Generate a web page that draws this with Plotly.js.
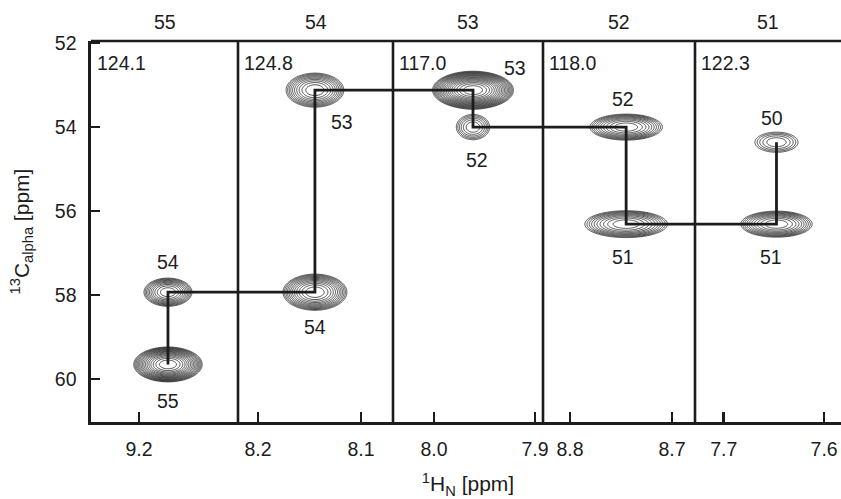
<!DOCTYPE html>
<html><head><meta charset="utf-8">
<script src="https://cdn.plot.ly/plotly-3.0.1.min.js"></script>
<style>html,body{margin:0;padding:0;background:#fff}</style>
</head><body><div id="chart" style="width:841px;height:499px"></div>
<script>
// ---- data ----
const stripResidues = ['55','54','53','52','51'];
const stripN15 = ['124.1','124.8','117.0','118.0','122.3'];
const stripHRange = [[9.247,9.103],[8.2194,8.0689],[8.0406,7.8921],[8.8265,8.6775],[7.7287,7.5832]];
const stripTickVals = [[9.2],[8.2,8.1],[8.0,7.9],[8.8,8.7],[7.7,7.6]];
const stripTickText = [['9.2'],['8.2','8.1'],['8.0','7.9'],['8.8','8.7'],['7.7','7.6']];
const cRange = [61.02, 51.95];
const cTicks = [52,54,56,58,60];

const peakStrip = [0,0,1,1,2,2,3,3,4,4];
const peakLabel = ['54','55','53','54','53','52','52','51','50','51'];
const peakH = [9.1716,9.1716,8.1447,8.1447,7.9614,7.9614,8.745,8.745,7.6475,7.6475];
const peakC = [57.93,59.65,53.12,57.93,53.12,54.0,54.0,56.31,54.36,56.31];
const peakWidthH = [0.047,0.067,0.056,0.062,0.080,0.033,0.071,0.081,0.043,0.071];
const peakWidthC = [0.67,0.83,0.81,0.86,0.90,0.60,0.62,0.64,0.48,0.62];
const peakLevels = [10,16,10,12,18,6,10,10,5,10];
const walkOrder = [1,0,3,2,4,5,6,7,9,8];

// ---- styling ----
const FONT = 'Liberation Sans, Arial, Helvetica, sans-serif';
const INK = '#1c1c1c';
const FS = 19.5, TFS = 21;
const stripEdgesPx = [91,238,393,543,695,841];
const plotL = 91, plotR = 841;
const labelDX = [0,0,27,0,42,4,-3,-3,-4,-5];
const labelDY = [-30,37,32,35,-22,33,-28,33,-24,33];
const step = 0.3;

const dom = [];
for (let i=0;i<5;i++) dom.push([(stripEdgesPx[i]-plotL)/(plotR-plotL),(stripEdgesPx[i+1]-plotL)/(plotR-plotL)]);
const axName = i => i===0 ? 'x' : 'x'+(i+1);

const traces = [];
// contours
for (let s=0;s<5;s++){
  const [lo,hi] = stripHRange[s];
  const nx = 150, xs = [];
  for (let i=0;i<nx;i++) xs.push(lo+(hi-lo)*i/(nx-1));
  const ys = [];
  for (let y=51.95;y<=61.02;y+=0.015) ys.push(y);
  const pk = [];
  for (let k=0;k<peakStrip.length;k++) if (peakStrip[k]===s){
    const n = peakLevels[k];
    const f = Math.sqrt(2*n*step);
    pk.push({h:peakH[k], c:peakC[k], A:Math.exp(n*step), sx:(peakWidthH[k]/2)/f, sy:(peakWidthC[k]/2)/f});
  }
  const z = ys.map(y => xs.map(x => {
    let v = 1e-9;
    for (const p of pk){
      const dx=(x-p.h)/p.sx, dy=(y-p.c)/p.sy;
      v += p.A*Math.exp(-0.5*(dx*dx+dy*dy));
    }
    return Math.log(v);
  }));
  traces.push({type:'contour', x:xs, y:ys, z:z, xaxis:axName(s), yaxis:'y',
    autocontour:false, contours:{start:0.001, end:30, size:step, coloring:'none'},
    line:{color:'#1a1a1a', width:0.75, smoothing:1}, showscale:false, hoverinfo:'skip'});
}
// connectivity walk
const segs = [[],[],[],[],[]];
for (let i=0;i<walkOrder.length;i++){
  const k = walkOrder[i];
  const s = peakStrip[k];
  if (i>0){
    const kp = walkOrder[i-1];
    const sp = peakStrip[kp];
    if (sp!==s){
      segs[sp].push([stripHRange[sp][1], peakC[kp]]);
      segs[sp].push(null);
      segs[s].push([stripHRange[s][0], peakC[k]]);
    }
  }
  segs[s].push([peakH[k], peakC[k]]);
}
for (let s=0;s<5;s++){
  const xs=[], ys=[];
  for (const p of segs[s]){ if(p===null){xs.push(null);ys.push(null);} else {xs.push(p[0]);ys.push(p[1]);} }
  traces.push({type:'scatter', mode:'lines', x:xs, y:ys, xaxis:axName(s), yaxis:'y',
    line:{color:INK, width:2.8}, hoverinfo:'skip', showlegend:false, cliponaxis:false});
}

const layout = {
  width:841, height:499, margin:{l:91, r:0, t:41, b:77},
  paper_bgcolor:'#fff', plot_bgcolor:'#fff', showlegend:false,
  font:{family:FONT, size:FS, color:INK},
  yaxis:{range:cRange, tickvals:cTicks, ticks:'inside', ticklen:9, tickwidth:2.6, tickcolor:INK,
    showline:true, linewidth:2.6, linecolor:INK, showgrid:false, zeroline:false, anchor:'x',
    ticklabelstandoff:8, tickfont:{size:FS, color:INK},
    title:{text:'<sup>13</sup>C<sub>alpha</sub> [ppm]', font:{size:TFS, color:INK}, standoff:20}},
  shapes:[], annotations:[]
};
for (let s=0;s<5;s++){
  const ax = {domain:dom[s], range:stripHRange[s], anchor:'y', tickvals:stripTickVals[s], ticktext:stripTickText[s],
    ticks:'inside', ticklen:10, tickwidth:2.6, tickcolor:INK, showline:true, linewidth:2.6, linecolor:INK,
    showgrid:false, zeroline:false, ticklabelstandoff:8, tickfont:{size:FS, color:INK}};
  if (s===2) ax.title = {text:'<sup>1</sup>H<sub>N</sub> [ppm]', font:{size:TFS, color:INK}, standoff:18};
  layout[s===0?'xaxis':'xaxis'+(s+1)] = ax;
  layout.annotations.push({xref:axName(s)+' domain', x:0.5, yref:'paper', y:1, yanchor:'bottom', yshift:6,
    text:stripResidues[s], showarrow:false, font:{size:FS, color:INK}});
  layout.annotations.push({xref:axName(s)+' domain', x:0, xanchor:'left', xshift:4, yref:'paper', y:1, yanchor:'top', yshift:-9,
    text:stripN15[s], showarrow:false, font:{size:FS, color:INK}});
  if (s>0) layout.shapes.push({type:'line', xref:'paper', yref:'paper', x0:dom[s][0], x1:dom[s][0], y0:0, y1:1, line:{color:INK, width:2.6}});
}
layout.shapes.push({type:'line', xref:'paper', yref:'paper', x0:0, x1:1, y0:1, y1:1, line:{color:INK, width:2.6}});
for (let k=0;k<peakLabel.length;k++){
  layout.annotations.push({xref:axName(peakStrip[k]), yref:'y', x:peakH[k], y:peakC[k], xshift:labelDX[k], yshift:-labelDY[k],
    text:peakLabel[k], showarrow:false, font:{size:FS, color:INK}});
}
Plotly.newPlot('chart', traces, layout, {staticPlot:true});
</script></body></html>
